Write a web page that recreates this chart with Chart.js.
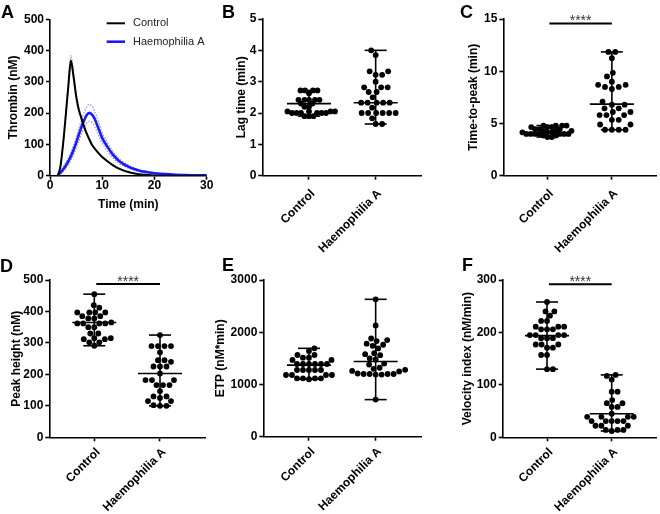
<!DOCTYPE html>
<html><head><meta charset="utf-8">
<script src="https://cdn.jsdelivr.net/npm/chart.js@4.4.1/dist/chart.umd.min.js"></script>
<style>
html,body{margin:0;padding:0;background:#fff;}
#wrap{position:relative;width:660px;height:514px;overflow:hidden;background:#fff;}
canvas{position:absolute;}
.lbl{position:absolute;font-family:'Liberation Sans',Arial,sans-serif;font-weight:bold;font-size:18px;line-height:18px;color:#000;}
</style></head><body>
<div id="wrap">
<canvas id="cA"></canvas><canvas id="cB"></canvas><canvas id="cC"></canvas>
<canvas id="cD"></canvas><canvas id="cE"></canvas><canvas id="cF"></canvas>
<div class="lbl" style="left:1px;top:3px">A</div>
<div class="lbl" style="left:222px;top:3px">B</div>
<div class="lbl" style="left:460px;top:3px">C</div>
<div class="lbl" style="left:0px;top:257px">D</div>
<div class="lbl" style="left:222px;top:256px">E</div>
<div class="lbl" style="left:462px;top:256px">F</div>
</div>
<script>
// ---------------- DATA ----------------
const categories = ['Control', 'Haemophilia A'];

// Panel A: thrombin generation curves (nM vs min)
const timeMin   = [1.5,2,2.5,3,3.5,4,4.5,5,5.5,6,6.5,7,7.5,8,8.5,9,9.5,10,11,12,13,14,15,16,17,18,19,20,22,24,26,28,30];
const ctrlMean  = [0,30,100,190,285,368,318,255,212,185,158,136,117,100,88,78,68,60,46,34,24,17,12,8,5,3,2,1,0,0,0,0,0];
const ctrlUpper = [0,33,106,198,298,385,330,265,220,192,164,141,121,104,91,81,70,62,48,35,25,18,12,8,5,3,2,1,0,0,0,0,0];
const ctrlLower = [0,27,94,182,272,352,306,245,204,178,152,131,113,96,85,75,66,58,44,33,23,16,11,7,4,2,1,0,0,0,0,0,0];
const haMean    = [2,10,20,32,46,62,82,105,130,155,176,193,201,196,183,163,141,120,92,68,50,38,29,22,17,13,10,8,5,3,2,1,1];
const haUpper   = [6,16,28,41,57,75,97,122,150,177,201,219,228,223,208,186,161,137,106,78,58,44,34,26,20,15,12,10,6,4,3,2,1];
const haLower   = [0,5,13,23,35,49,67,88,110,133,151,167,174,170,158,140,121,103,78,58,42,32,24,18,14,11,8,6,4,2,1,0,0];

// Panel B: lag time (min)
const lagControl = [2.72,2.72,2.72,2.72,2.63,2.42,2.42,2.42,2.42,2.42,2.3,2.3,2.2,2.2,2.05,2.05,2.05,2.05,2.0,2.0,2.0,2.0,2.0,2.0,1.9,1.9,1.9];
const lagHA      = [4.0,3.85,3.33,3.33,3.22,3.22,3.0,2.82,2.82,2.82,2.67,2.67,2.5,2.33,2.33,2.33,2.33,2.33,2.17,2.0,2.0,2.0,2.0,2.0,2.0,1.83,1.65,1.65];
const lagMedian  = [2.3, 2.33];

// Panel C: time-to-peak (min)
const ttpControl = [4.8,4.8,4.8,4.8,4.65,4.65,4.65,4.45,4.45,4.45,4.3,4.3,4.3,4.15,4.15,4.15,4.0,4.0,4.0,4.0,4.0,4.0,4.0,3.85,3.85,3.7,3.7];
const ttpHA      = [11.85,11.85,11.25,9.85,9.5,9.0,8.7,8.7,8.5,8.5,8.3,7.1,6.8,6.8,6.45,6.45,6.1,6.1,5.8,5.8,5.8,5.35,5.35,4.9,4.9,4.4,4.4,4.4,4.4];
const ttpMedian  = [4.1, 6.85];

// Panel D: peak height (nM)
const peakControl = [455,420,412,397,397,397,397,385,385,378,378,365,362,362,362,362,350,350,330,330,315,315,312,312,302,302,291];
const peakHA      = [325,290,290,290,290,270,245,245,240,225,225,225,203,182,182,182,166,166,166,147,130,130,125,115,115,102,100,100];
const peakMedian  = [365, 203];

// Panel E: ETP (nM*min)
const etpControl = [1692,1641,1564,1564,1513,1513,1469,1469,1392,1392,1392,1392,1392,1392,1277,1277,1277,1277,1277,1181,1181,1181,1181,1117,1117,1117,1117,1100];
const etpHA      = [2630,2130,1880,1850,1830,1780,1760,1740,1690,1600,1580,1560,1500,1480,1400,1380,1320,1300,1280,1260,1250,1210,1200,1200,1200,1200,1190,1190,710];
const etpMedian  = [1370, 1440];

// Panel F: velocity index (nM/min)
const viControl = [258,240,240,232,222,222,211,211,211,206,206,206,195,195,195,195,189,189,189,177,177,177,171,171,157,157,130,130];
const viHA      = [119,117,110,87,87,71,65,65,58,58,45,39,39,39,39,31,31,31,31,31,22,22,22,14,14,14,12];
const viMedian  = [194, 45];

// ---------------- RENDER ----------------
const FONT = "'Liberation Sans', Arial, Helvetica, sans-serif";
const HA_BLUE = '#1a1aff';
Chart.defaults.font.family = FONT;
Chart.defaults.color = '#000';

function place(id, r) {
  const c = document.getElementById(id);
  c.width = r.w; c.height = r.h;
  c.style.left = r.x + 'px'; c.style.top = r.y + 'px';
  c.style.width = r.w + 'px'; c.style.height = r.h + 'px';
  return c;
}
function tickFont(){ return {family:FONT,size:12,weight:'bold'}; }
function gridOpt(){ return {display:true,drawOnChartArea:false,drawTicks:true,tickLength:4,tickColor:'#000',tickWidth:1.6}; }
function borderOpt(){ return {display:true,color:'#000',width:1.6}; }
function layoutFor(g){
  const padL = g.titleX - g.rect.x - 6;
  return {padL, padding:{left:padL, top:g.top - g.rect.y, right:(g.rect.x + g.rect.w) - g.right, bottom:0}};
}
function yAxis(g, padL, title, max, step){
  return {
    type:'linear', min:0, max:max,
    border:borderOpt(), grid:gridOpt(),
    ticks:{stepSize:step, color:'#000', padding:2, font:tickFont(), callback:(v)=>String(v)},
    title:{display:true, text:title, color:'#000', font:{family:FONT,size:12,weight:'bold',lineHeight:1}, padding:{top:0,bottom:0}},
    afterFit(s){ s.width = g.left - g.rect.x - padL; }
  };
}

// beeswarm placement (layout only): returns x offsets in axis units
function swarm(values, pxX, pxY, diam){
  const order = values.map((v,i)=>i).sort((a,b)=>values[a]-values[b]);
  const placed = []; const out = new Array(values.length).fill(0);
  let flip = 1;
  for (const i of order){
    const y = values[i]*pxY;
    let chosen = 0;
    for (let k=0;k<600;k++){
      const d = k*0.5;
      const cands = k===0 ? [0] : [flip*d, -flip*d];
      let ok = null;
      for (const c of cands){
        if (placed.every(p => (p.x-c)*(p.x-c)+(p.y-y)*(p.y-y) >= diam*diam-1e-6)) { ok = c; break; }
      }
      if (ok !== null){ chosen = ok; break; }
    }
    if (chosen !== 0) flip = -flip;
    placed.push({x:chosen,y:y});
    out[i] = chosen/pxX;
  }
  return out;
}

function scatterPanel(id, g, title, yMax, yStep, groups, medians, sig, diams){
  const canvas = place(id, g.rect);
  const L = layoutFor(g);
  const pxX = (g.right - g.left)/(g.xmax - g.xmin);
  const pxY = (g.bottom - g.top)/yMax;
  const datasets = groups.map((vals, gi) => {
    const off = swarm(vals, pxX, pxY, diams[gi]);
    return {
      label: categories[gi],
      data: vals.map((v,j)=>({x: gi + off[j], y: v})),
      pointRadius: 2.9, pointBackgroundColor:'#000', pointBorderWidth:0, showLine:false
    };
  });
  const bars = {
    id:'rangeBars',
    afterDatasetsDraw(chart){
      const ctx = chart.ctx, xs = chart.scales.x, ys = chart.scales.y;
      ctx.save(); ctx.strokeStyle='#000'; ctx.lineWidth=1.6; ctx.lineCap='butt';
      const seg=(a,b,c,d)=>{ctx.beginPath();ctx.moveTo(a,b);ctx.lineTo(c,d);ctx.stroke();};
      groups.forEach((vals, gi) => {
        const cx = xs.getPixelForValue(gi);
        const lo = ys.getPixelForValue(Math.min(...vals));
        const hi = ys.getPixelForValue(Math.max(...vals));
        const md = ys.getPixelForValue(medians[gi]);
        seg(cx, lo, cx, hi);
        seg(cx-11, lo, cx+11, lo); seg(cx-11, hi, cx+11, hi);
        seg(cx-22, md, cx+22, md);
      });
      if (sig){
        const x0 = xs.getPixelForValue(sig.from), x1 = xs.getPixelForValue(sig.to), y = ys.getPixelForValue(sig.y);
        ctx.lineWidth = 2; seg(x0, y, x1, y);
        ctx.fillStyle='#333'; ctx.font = "14px "+FONT; ctx.textAlign='center'; ctx.textBaseline='alphabetic';
        ctx.fillText(sig.text, (x0+x1)/2, y + 2);
      }
      ctx.restore();
    }
  };
  new Chart(canvas, {
    type:'scatter',
    data:{datasets},
    options:{
      responsive:false, animation:false, devicePixelRatio:1, events:[],
      layout:{padding:L.padding},
      plugins:{legend:{display:false}, tooltip:{enabled:false}},
      scales:{
        x:{
          type:'linear', min:g.xmin, max:g.xmax,
          border:borderOpt(), grid:gridOpt(),
          afterBuildTicks(s){ s.ticks = categories.map((c,i)=>({value:i})); },
          ticks:{autoSkip:false, maxRotation:45, minRotation:45, padding:g.labPad, labelOffset:4, color:'#000', font:tickFont(),
                 callback:(v)=> categories[Math.round(v)] || ''},
          afterFit(s){ s.height = g.rect.y + g.rect.h - g.bottom; }
        },
        y: yAxis(g, L.padL, title, yMax, yStep)
      }
    },
    plugins:[bars]
  });
}

// ---- Panel A ----
(function(){
  const g = {rect:{x:0,y:0,w:215,h:213}, left:50, right:206.7, top:19.3, bottom:175.7, titleX:13.5};
  const canvas = place('cA', g.rect);
  const L = layoutFor(g);
  const pts = arr => timeMin.map((t,i)=>({x:t,y:arr[i]}));
  const line = (label, arr, color, w, dash, order) => ({
    label, data:pts(arr), borderColor:color, borderWidth:w, borderDash:dash||[], pointRadius:0,
    fill:false, cubicInterpolationMode:'monotone', order
  });
  const legendA = {
    id:'legA',
    afterDraw(chart){
      const ctx = chart.ctx; ctx.save();
      const items = [{t:categories[0], c:'#000', w:2, y:23.3},{t:categories[1], c:HA_BLUE, w:2.6, y:41.7}];
      items.forEach(it=>{
        ctx.strokeStyle = it.c; ctx.lineWidth = it.w;
        ctx.beginPath(); ctx.moveTo(106.7, it.y); ctx.lineTo(125, it.y); ctx.stroke();
        ctx.fillStyle = '#222'; ctx.font = "11px "+FONT; ctx.textBaseline='middle'; ctx.textAlign='left';
        ctx.fillText(it.t, 133, it.y);
      });
      ctx.restore();
    }
  };
  new Chart(canvas, {
    type:'line',
    data:{datasets:[
      line(categories[0], ctrlMean, '#000', 2, null, 0),
      line(categories[1], haMean, HA_BLUE, 2.6, null, 1),
      line('ctrlUpper', ctrlUpper, 'rgba(110,110,110,0.8)', 1, [1.5,1.5], 2),
      line('ctrlLower', ctrlLower, 'rgba(110,110,110,0.8)', 1, [1.5,1.5], 2),
      line('haUpper', haUpper, 'rgba(70,70,255,0.6)', 1.2, [1.5,1.5], 3),
      line('haLower', haLower, 'rgba(70,70,255,0.6)', 1.2, [1.5,1.5], 3)
    ]},
    options:{
      responsive:false, animation:false, devicePixelRatio:1, events:[],
      layout:{padding:L.padding},
      plugins:{legend:{display:false}, tooltip:{enabled:false}},
      scales:{
        x:{
          type:'linear', min:0, max:30,
          border:borderOpt(), grid:gridOpt(),
          ticks:{stepSize:10, maxRotation:0, padding:-1, color:'#000', font:tickFont(), callback:(v)=>String(v)},
          title:{display:true, text:'Time (min)', color:'#000', font:{family:FONT,size:12,weight:'bold',lineHeight:1}, padding:{top:0,bottom:2}},
          afterFit(s){ s.height = g.rect.y + g.rect.h - g.bottom; }
        },
        y: yAxis(g, L.padL, 'Thrombin (nM)', 500, 100)
      }
    },
    plugins:[legendA]
  });
})();

// ---- Panels B-F ----
scatterPanel('cB', {rect:{x:215,y:0,w:225,h:262}, left:262.3, right:421, top:19, bottom:175.7, titleX:241.5, xmin:-0.70, xmax:1.68, labPad:7},
  'Lag time (min)', 5, 1, [lagControl, lagHA], lagMedian, null, [4.5, 6.5]);
scatterPanel('cC', {rect:{x:440,y:0,w:220,h:262}, left:503.3, right:659, top:19, bottom:175.7, titleX:474, xmin:-0.685, xmax:1.685, labPad:7},
  'Time-to-peak (min)', 15, 5, [ttpControl, ttpHA], ttpMedian, {from:0.03, to:1, y:14.58, text:'****'}, [4.2, 7]);
scatterPanel('cD', {rect:{x:0,y:250,w:215,h:264}, left:49.3, right:205, top:280, bottom:437.3, titleX:16.5, xmin:-0.685, xmax:1.685, labPad:4},
  'Peak height (nM)', 500, 100, [peakControl, peakHA], peakMedian, {from:0.03, to:1, y:487, text:'****'}, [6, 6.5]);
scatterPanel('cE', {rect:{x:215,y:250,w:225,h:264}, left:263.3, right:421, top:280, bottom:436.7, titleX:221, xmin:-0.685, xmax:1.68, labPad:4},
  'ETP (nM*min)', 3000, 1000, [etpControl, etpHA], etpMedian, null, [6, 6]);
scatterPanel('cF', {rect:{x:440,y:250,w:220,h:264}, left:502.7, right:659, top:280, bottom:437.3, titleX:468, xmin:-0.685, xmax:1.685, labPad:4},
  'Velocity index (nM/min)', 300, 100, [viControl, viHA], viMedian, {from:0.03, to:1, y:292, text:'****'}, [6, 6]);
</script>
</body></html>
